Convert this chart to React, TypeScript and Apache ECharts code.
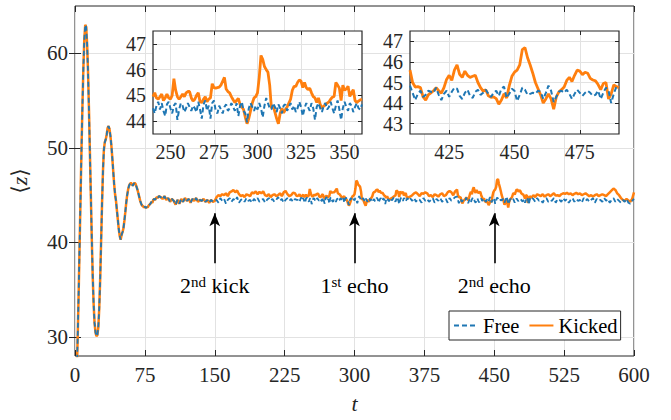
import React, { useEffect, useRef } from 'react';
import * as echarts from 'echarts';

const FONT = 'Liberation Serif, DejaVu Serif, serif';
const AXIS_COLOR = '#262626';
const GRID_COLOR = '#e2e2e2';
const BLUE = '#1f77b4';
const ORANGE = '#ff7f0e';

// ---- tick labels ----
const mainYTicks = [30, 40, 50, 60];
const inset1XTicks = [250, 275, 300, 325, 350];
const inset1YTicks = [44, 45, 46, 47];
const inset2XTicks = [425, 450, 475];
const inset2YTicks = [43, 44, 45, 46, 47];

// ---- data: shared transient, t = 0..90 (step 1) ----
const earlyShared = [
  20, 23, 26.5, 30.5, 35, 40, 45, 50, 54.5, 58.5,
  61.5, 63, 62.8, 61, 58, 54, 49.5, 45, 40.5, 36.5,
  33.5, 31.5, 30.5, 30.1, 30.2, 31, 33, 36, 40, 44,
  47.5, 49.8, 50.6, 50.9, 51.4, 52.1, 52.3, 52, 51.3, 50.3,
  49, 47.6, 46.2, 45.1, 44.4, 43.4, 42.4, 41.4, 40.7, 40.3,
  40.8, 41.1, 41.5, 42.3, 43.2, 44.2, 45, 45.6, 46, 46.2,
  46.3, 46.2, 46, 46.2, 46.3, 46.2, 45.9, 45.6, 45.2, 44.8,
  44.4, 44.1, 43.9, 43.85, 43.7, 43.8, 43.65, 43.75, 43.7, 43.9,
  44, 44.1, 44.3, 44.2, 44.5, 44.6, 44.5, 44.7, 44.8, 44.7,
  44.9,
];
// t = 92..150 (step 2), identical before the 2nd kick
const preKickShared = [
  44.8, 44.6, 44.9, 44.5, 44.7, 44.3, 44.6, 44.4, 44.0, 44.5,
  44.1, 44.6, 44.3, 44.7, 44.4, 44.6, 44.2, 44.6, 44.4, 44.7,
  44.3, 44.5, 44.4, 44.6, 44.3, 44.5, 44.2, 44.5, 44.3, 44.4,
];
// t = 152..238 (step 2)
const freeB = [
  44.5, 44.2, 44.7, 44.4, 44.6, 44.1, 44.5, 44.7, 44.3, 44.6,
  44.4, 44.8, 44.2, 44.5, 44.6, 44.3, 44.7, 44.4, 44.5, 44.2,
  44.6, 44.4, 44.7, 44.3, 44.5, 44.6, 44.2, 44.5, 44.7, 44.4,
  44.6, 44.3, 44.5, 44.8, 44.4, 44.6, 44.2, 44.5, 44.7, 44.4,
  44.6, 44.3, 44.6, 44.5,
];
const kickedB = [
  44.8, 45.0, 44.9, 45.1, 45.0, 45.2, 44.9, 45.3, 45.4, 45.55,
  45.3, 45.5, 45.1, 44.9, 45.0, 44.8, 45.1, 45.0, 44.9, 45.3,
  45.2, 45.4, 45.1, 45.35, 45.2, 45.4, 45.0, 44.9, 45.1, 44.8,
  45.0, 45.1, 44.9, 45.0, 45.2, 44.9, 45.3, 45.45, 45.1, 44.9,
  45.0, 45.25, 45.2, 44.9,
];
// t = 240..360 (step 1) — first inset window
const inset1Free = [
  44.5, 44.3, 44.6, 44.75, 44.45, 44.7, 44.4, 44.2, 44.65, 44.75,
  44.5, 44.3, 44.6, 44.7, 44.05, 44.45, 44.7, 44.6, 44.35, 44.5,
  44.7, 44.55, 44.4, 44.6, 44.5, 44.35, 44.75, 44.45, 44.1, 44.65,
  44.8, 44.4, 44.6, 44.1, 44.7, 44.8, 44.4, 44.3, 44.6, 44.45,
  44.3, 44.55, 44.65, 44.4, 44.5, 44.7, 44.55, 44.4, 44.7, 44.2,
  44.6, 44.75, 44.4, 44.3, 43.95, 44.5, 44.7, 44.55, 44.4, 44.6,
  44.45, 44.7, 44.5, 44.15, 44.6, 44.9, 44.7, 44.5, 44.45, 44.7,
  44.55, 44.35, 44.65, 44.5, 44.3, 44.6, 44.65, 44.4, 44.55, 44.7,
  44.45, 44.6, 44.35, 44.5, 44.75, 44.55, 44.2, 44.5, 44.7, 44.55,
  44.4, 44.7, 44.5, 44.05, 44.55, 44.7, 44.5, 44.35, 44.6, 44.7,
  44.45, 44.55, 44.75, 44.5, 44.3, 44.6, 44.8, 44.45, 44.05, 44.5,
  44.75, 44.55, 44.4, 44.7, 44.6, 44.35, 44.55, 44.7, 44.5, 44.45,
  44.65,
];
const inset1Kicked = [
  44.95, 45.1, 44.9, 44.85, 44.95, 45.05, 44.8, 44.9, 45.05, 44.9,
  44.85, 45.0, 45.65, 45.2, 44.95, 44.85, 44.95, 45.05, 44.95, 45.1,
  45.15, 45.15, 44.9, 44.78, 44.85, 45.0, 45.1, 44.75, 44.72, 44.85,
  44.95, 44.75, 44.85, 44.9, 45.45, 45.3, 45.28, 45.3, 45.32, 45.4,
  45.55, 45.7, 45.25, 45.15, 45.1, 44.95, 44.83, 44.72, 44.8, 44.88,
  44.65, 44.55, 44.45, 44.15, 43.9, 44.1, 44.4, 44.7, 44.9, 44.95,
  45.1, 45.7, 46.55, 46.4, 46.12, 46.0, 45.9, 45.4, 44.5, 44.6,
  44.35, 44.1, 43.9, 44.3, 44.5, 44.32, 44.45, 44.55, 44.7, 44.85,
  45.2, 45.35, 45.35, 45.5, 45.6, 45.55, 45.3, 45.5, 45.3, 45.22,
  45.28, 45.1, 44.95, 44.9, 44.72, 44.9, 44.65, 44.5, 44.58, 44.64,
  44.7, 44.74, 44.85, 44.93, 44.96, 45.5, 45.4, 45.28, 44.8, 45.4,
  45.2, 45.25, 45.35, 44.96, 45.1, 45.22, 44.8, 44.72, 44.78, 44.83,
  44.85,
];
// t = 362..408 (step 2)
const freeD = [
  44.4, 44.7, 44.3, 44.6, 44.5, 44.2, 44.7, 44.4, 44.6, 44.3,
  44.5, 44.7, 44.2, 44.6, 44.4, 44.7, 44.3, 44.5, 44.6, 44.2,
  44.7, 44.4, 44.6, 44.8,
];
const kickedD = [
  45.0, 45.2, 45.3, 45.1, 44.9, 45.2, 45.15, 45.3, 45.2, 44.9,
  45.0, 44.8, 45.1, 45.0, 44.85, 45.1, 45.2, 44.9, 45.0, 45.3,
  45.45, 45.3, 45.0, 45.4,
];
// t = 410..490 (step 1) — second inset window
const inset2Free = [
  44.85, 44.5, 44.15, 44.45, 44.6, 44.3, 44.4, 44.6, 44.55, 44.5,
  44.75, 44.4, 44.15, 44.45, 44.6, 44.3, 44.55, 44.75, 44.7, 44.35,
  44.2, 44.5, 44.65, 44.35, 44.25, 44.55, 44.65, 44.4, 44.5, 44.65,
  44.45, 44.3, 44.5, 44.6, 44.35, 44.7, 44.8, 44.25, 44.45, 44.7,
  44.6, 44.1, 44.4, 44.75, 44.65, 44.4, 44.45, 44.5, 44.45, 44.6,
  44.55, 44.2, 44.5, 44.85, 44.6, 44.05, 44.3, 44.55, 44.6, 44.5,
  44.65, 44.45, 44.2, 44.45, 44.65, 44.5, 44.35, 44.5, 44.6, 44.5,
  44.35, 44.4, 44.6, 44.2, 44.5, 44.75, 44.6, 44.0, 44.45, 44.8,
  44.75,
];
const inset2Kicked = [
  45.6, 45.0, 44.78, 44.8, 44.75, 44.3, 44.15, 44.4, 44.5, 44.6,
  44.75, 44.6, 44.48, 44.75, 45.15, 45.35, 45.1, 45.6, 45.85, 45.4,
  45.25, 45.55, 45.35, 45.25, 45.3, 45.35, 45.0, 44.75, 44.58, 44.65,
  44.35, 44.28, 44.3, 44.22, 43.95, 44.15, 44.45, 44.25, 44.85, 45.3,
  45.5, 45.6, 45.85, 46.6, 46.7, 46.2, 45.85, 45.45, 45.0, 44.7,
  44.4, 44.0, 44.2, 44.45, 44.2, 43.7, 44.3, 44.55, 44.65, 44.78,
  45.1, 45.25, 45.05, 45.35, 45.6, 45.55, 45.38, 45.5, 45.45, 45.2,
  45.12, 45.08, 44.9, 44.65, 44.95, 45.0, 44.2, 44.45, 44.88, 44.8,
  44.75,
];
// t = 492..600 (step 2)
const freeF = [
  44.6, 44.3, 44.7, 44.4, 44.5, 44.2, 44.6, 44.7, 44.3, 44.5,
  44.4, 44.7, 44.2, 44.6, 44.5, 44.3, 44.7, 44.4, 44.6, 44.2,
  44.5, 44.7, 44.3, 44.6, 44.4, 44.5, 44.2, 44.7, 44.4, 44.6,
  44.3, 44.5, 44.7, 44.2, 44.6, 44.4, 44.5, 44.3, 44.7, 44.4,
  44.6, 44.2, 44.5, 44.7, 44.3, 44.6, 44.4, 44.2, 44.5, 44.3,
  44.6, 44.2, 44.1, 44.4, 44.6,
];
const kickedF = [
  45.0, 44.8, 45.1, 45.0, 44.9, 45.1, 44.85, 45.0, 45.1, 44.9,
  45.05, 45.2, 44.95, 45.0, 44.9, 45.1, 45.2, 45.15, 45.25, 45.1,
  45.2, 45.0, 45.15, 45.25, 45.1, 45.2, 45.0, 45.1, 45.2, 45.05,
  44.9, 45.0, 44.85, 45.0, 45.1, 44.9, 45.0, 45.1, 45.0, 44.9,
  45.1, 45.3, 45.5, 45.7, 45.55, 45.2, 45.0, 44.7, 44.5, 44.4,
  44.6, 44.45, 44.3, 44.6, 45.3,
];

// ---- annotations ----
const annotationTimes = [150, 300, 450];
const annotationLabels = ['{n|2}{s|nd}{n| kick}', '{n|1}{s|st}{n| echo}', '{n|2}{s|nd}{n| echo}'];
const arrowBase = 37.8;
const arrowTip = 43.1;

const seg = (start: number, step: number, vals: number[]) => vals.map((v, i) => [start + i * step, v]);

const freeMain = [
  ...seg(0, 1, earlyShared), ...seg(92, 2, preKickShared), ...seg(152, 2, freeB),
  ...seg(240, 1, inset1Free), ...seg(362, 2, freeD), ...seg(410, 1, inset2Free), ...seg(492, 2, freeF),
];
const kickedMain = [
  ...seg(0, 1, earlyShared), ...seg(92, 2, preKickShared), ...seg(152, 2, kickedB),
  ...seg(240, 1, inset1Kicked), ...seg(362, 2, kickedD), ...seg(410, 1, inset2Kicked), ...seg(492, 2, kickedF),
];

function axis(dim: 'x' | 'y', grid: number, min: number, max: number, opts: any) {
  const { ticks, interval, labels, position, tickLen, z, fontSize } = opts;
  const a: any = {
    type: 'value', gridIndex: grid, min, max, position, z,
    axisLine: { show: false },
    axisTick: { show: true, inside: true, length: tickLen, lineStyle: { color: AXIS_COLOR, width: 1 } },
    axisLabel: labels
      ? { color: AXIS_COLOR, fontFamily: FONT, fontSize: fontSize || 20, margin: dim === 'x' ? 8 : 7 }
      : { show: false },
    splitLine: { show: !!labels, lineStyle: { color: GRID_COLOR, width: 1 } },
  };
  if (interval) a.interval = interval;
  if (ticks) {
    a.axisTick.customValues = ticks;
    if (labels) a.axisLabel.customValues = ticks;
  }
  return a;
}

export default function App() {
  const ref = useRef<HTMLDivElement>(null);
  useEffect(() => {
    if (!ref.current) return;
    const chart = echarts.init(ref.current, null, { renderer: 'svg' });
    const xAxis = [
      { ...axis('x', 0, 0, 600, { interval: 75, labels: true, position: 'bottom', tickLen: 6, z: 0, fontSize: 21 }),
        name: 't', nameLocation: 'middle', nameGap: 36,
        nameTextStyle: { fontFamily: FONT, fontSize: 22, fontStyle: 'italic', color: AXIS_COLOR } },
      axis('x', 0, 0, 600, { interval: 75, labels: false, position: 'top', tickLen: 6, z: 0 }),
      axis('x', 1, 240, 360, { ticks: inset1XTicks, labels: true, position: 'bottom', tickLen: 4, z: 3 }),
      axis('x', 1, 240, 360, { ticks: inset1XTicks, labels: false, position: 'top', tickLen: 4, z: 3 }),
      axis('x', 2, 410, 490, { ticks: inset2XTicks, labels: true, position: 'bottom', tickLen: 4, z: 3 }),
      axis('x', 2, 410, 490, { ticks: inset2XTicks, labels: false, position: 'top', tickLen: 4, z: 3 }),
    ];
    const yAxis = [
      { ...axis('y', 0, 28, 65, { ticks: mainYTicks, labels: true, position: 'left', tickLen: 6, z: 0, fontSize: 21 }),
        name: '⟨{i|z}⟩', nameLocation: 'middle', nameGap: 45, nameRotate: 90,
        nameTextStyle: { fontFamily: FONT, fontSize: 22, color: AXIS_COLOR,
          rich: { i: { fontFamily: FONT, fontSize: 22, fontStyle: 'italic', color: AXIS_COLOR } } } },
      axis('y', 0, 28, 65, { ticks: mainYTicks, labels: false, position: 'right', tickLen: 6, z: 0 }),
      axis('y', 1, 43.5, 47.5, { ticks: inset1YTicks, labels: true, position: 'left', tickLen: 4, z: 3 }),
      axis('y', 1, 43.5, 47.5, { ticks: inset1YTicks, labels: false, position: 'right', tickLen: 4, z: 3 }),
      axis('y', 2, 42.5, 47.5, { ticks: inset2YTicks, labels: true, position: 'left', tickLen: 4, z: 3 }),
      axis('y', 2, 42.5, 47.5, { ticks: inset2YTicks, labels: false, position: 'right', tickLen: 4, z: 3 }),
    ];
    const lineBase = { type: 'line', showSymbol: false, symbol: 'none', silent: true, emphasis: { disabled: true } };
    const option: any = {
      animation: false,
      backgroundColor: '#ffffff',
      textStyle: { fontFamily: FONT },
      grid: [
        { left: 75, top: 6, width: 559, height: 350, show: true, backgroundColor: 'transparent', borderColor: AXIS_COLOR, borderWidth: 1 },
        { left: 153, top: 31, width: 209, height: 103, show: true, backgroundColor: '#ffffff', borderColor: AXIS_COLOR, borderWidth: 1.2, z: 2 },
        { left: 410, top: 31, width: 209, height: 103, show: true, backgroundColor: '#ffffff', borderColor: AXIS_COLOR, borderWidth: 1.2, z: 2 },
      ],
      xAxis,
      yAxis,
      legend: {
        data: ['Free', 'Kicked'],
        left: 449, top: 311,
        itemWidth: 24, itemHeight: 6, itemGap: 9,
        padding: [4, 3, 4, 4],
        backgroundColor: '#ffffff', borderColor: AXIS_COLOR, borderWidth: 1, borderRadius: 0,
        itemStyle: { opacity: 0 },
        textStyle: { fontFamily: FONT, fontSize: 20.5, color: '#000' },
        selectedMode: false,
      },
      series: [
        { ...lineBase, name: 'Kicked', xAxisIndex: 0, yAxisIndex: 0, data: kickedMain, z: 2,
          lineStyle: { color: ORANGE, width: 2.5 }, itemStyle: { color: ORANGE } },
        { ...lineBase, name: 'Free', xAxisIndex: 0, yAxisIndex: 0, data: freeMain, z: 3,
          lineStyle: { color: BLUE, width: 1.8, type: [5, 3] }, itemStyle: { color: BLUE },
          markLine: {
            silent: true, animation: false,
            symbol: ['none', 'arrow'],
            lineStyle: { color: '#000', width: 1.6, type: 'solid' },
            emphasis: { disabled: true },
            data: annotationTimes.map((t, i) => [
              { coord: [t, arrowBase], symbol: 'none',
                label: { show: true, position: 'start', distance: 11, formatter: annotationLabels[i],
                  rich: {
                    n: { fontFamily: FONT, fontSize: 22, color: '#000' },
                    s: { fontFamily: FONT, fontSize: 15, color: '#000', verticalAlign: 'top' },
                  } } },
              { coord: [t, arrowTip], symbol: 'arrow', symbolSize: [8, 13] },
            ]),
          } },
        { ...lineBase, name: 'Kicked', xAxisIndex: 2, yAxisIndex: 2, data: seg(240, 1, inset1Kicked), z: 4,
          lineStyle: { color: ORANGE, width: 2.8 }, itemStyle: { color: ORANGE } },
        { ...lineBase, name: 'Free', xAxisIndex: 2, yAxisIndex: 2, data: seg(240, 1, inset1Free), z: 5,
          lineStyle: { color: BLUE, width: 2, type: [5, 3] }, itemStyle: { color: BLUE } },
        { ...lineBase, name: 'Kicked', xAxisIndex: 4, yAxisIndex: 4, data: seg(410, 1, inset2Kicked), z: 4,
          lineStyle: { color: ORANGE, width: 2.8 }, itemStyle: { color: ORANGE } },
        { ...lineBase, name: 'Free', xAxisIndex: 4, yAxisIndex: 4, data: seg(410, 1, inset2Free), z: 5,
          lineStyle: { color: BLUE, width: 2, type: [5, 3] }, itemStyle: { color: BLUE } },
      ],
    };
    chart.setOption(option);
    return () => chart.dispose();
  }, []);
  return <div ref={ref} style={{ position: 'absolute', left: 0, top: 0, width: 671, height: 420, background: '#fff' }} />;
}
